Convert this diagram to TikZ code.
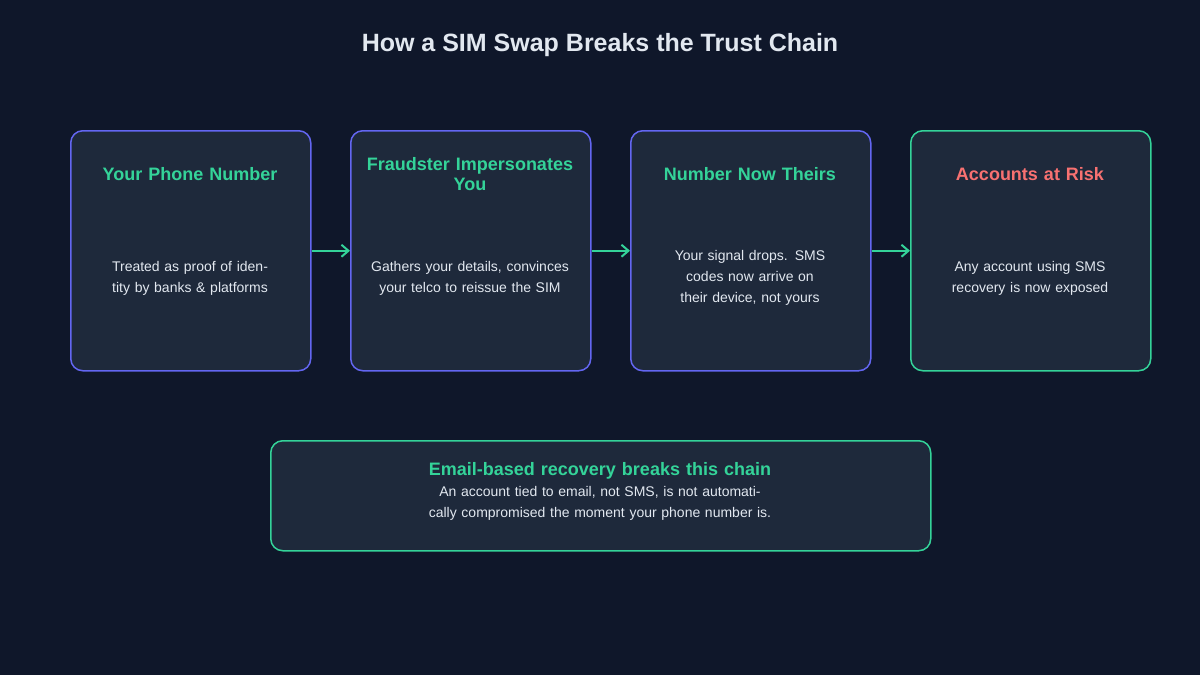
\documentclass[tikz,border=0pt]{standalone}
\usepackage{fontspec}
\setmainfont{Liberation Sans}
\usetikzlibrary{arrows.meta}
\definecolor{bg}{HTML}{0F172A}
\definecolor{card}{HTML}{1E293B}
\definecolor{ind}{HTML}{6366F1}
\definecolor{grn}{HTML}{34D399}
\definecolor{red}{HTML}{F87171}
\definecolor{txt}{HTML}{E2E8F0}
\begin{document}
\begin{tikzpicture}[x=1pt,y=-1pt,
 box/.style={draw=ind,line width=1.5pt,fill=card,rounded corners=12pt,minimum width=240pt,minimum height=240pt,anchor=north west},
 head/.style={text=grn,font=\fontsize{18}{20}\selectfont\bfseries,align=center,text width=230pt},
 body/.style={text=txt,font=\fontsize{14}{21}\selectfont,align=center,text width=215pt},
 arr/.style={draw=grn,line width=2pt,-{Straight Barb[length=7pt,width=12pt]}}]
\useasboundingbox[fill=bg] (0,0) rectangle (1200,675);
\node[text=txt,font=\fontsize{25}{28}\selectfont\bfseries] (title) at (600,45) {How a SIM Swap Breaks the Trust Chain};
\node[box] (b1) at (70,130) {};
\node[box] (b2) at (350,130) {};
\node[box] (b3) at (630,130) {};
\node[box,draw=grn] (b4) at (910,130) {};
\node[head] (h1) at (190,174) {Your Phone Number};
\node[head] (h2) at (470,174) {Fraudster Impersonates\\You};
\node[head] (h3) at (750,174) {Number Now Theirs};
\node[head,text=red] (h4) at (1030,174) {Accounts at Risk};
\node[body] (t1) at (190,278) {Treated as proof of identity by banks \& platforms};
\node[body] (t2) at (470,278) {Gathers your details, convinces your telco to reissue the SIM};
\node[body] (t3) at (750,278) {Your signal drops. SMS codes now arrive on their device, not yours};
\node[body,text width=190pt] (t4) at (1030,278) {Any account using SMS recovery is now exposed};
\draw[arr] (b1.east) -- (b2.west);
\draw[arr] (b2.east) -- (b3.west);
\draw[arr] (b3.east) -- (b4.west);
\node[box,draw=grn,minimum width=660pt,minimum height=110pt] (bb) at (270,440) {};
\node[head,text width=600pt] (bh) at (600,471) {Email-based recovery breaks this chain};
\node[body,text width=560pt] (bt) at (600,503) {An account tied to email, not SMS, is not automatically compromised the moment your phone number is.};
\end{tikzpicture}
\end{document}
